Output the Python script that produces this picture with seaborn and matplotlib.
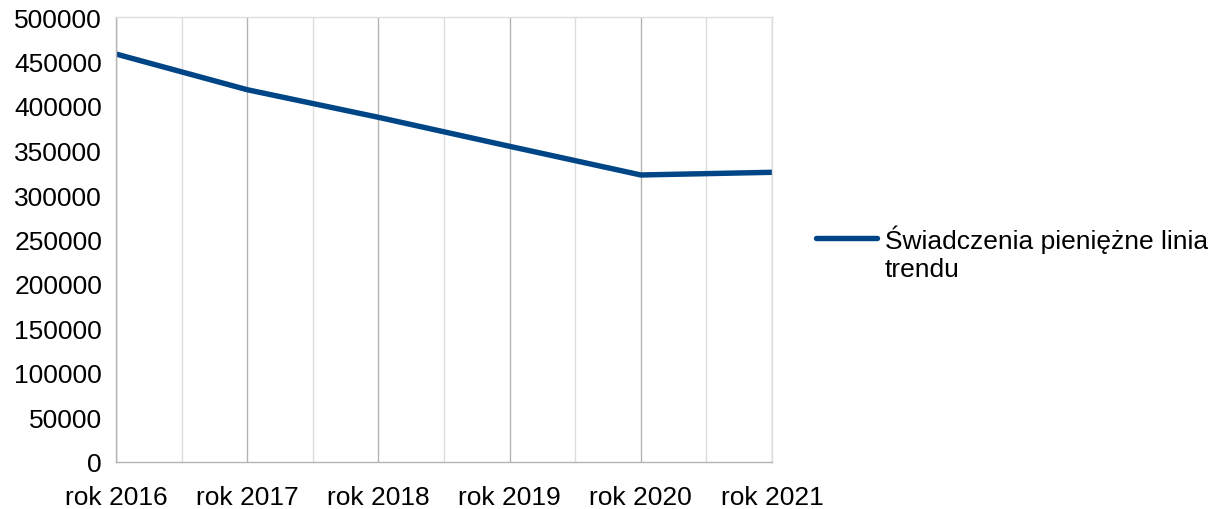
import pandas as pd
import matplotlib.pyplot as plt
import seaborn as sns

# values
years = ['rok 2016', 'rok 2017', 'rok 2018', 'rok 2019', 'rok 2020', 'rok 2021']
values = [458400, 418300, 387300, 354700, 322500, 325500]
series_label = 'Świadczenia pieniężne linia\ntrendu'
y_ticks = list(range(0, 500001, 50000))

LINE_COLOR = '#004586'
MAJOR_GRID = '#b3b3b3'
MINOR_GRID = '#dddddd'
FS = 19

sns.set_style('white')
plt.rcParams['font.family'] = ['Liberation Sans', 'DejaVu Sans']
plt.rcParams['font.size'] = FS

df = pd.DataFrame({'year': years, 'value': values, 'series': series_label})

fig = plt.figure(figsize=(12.27, 5.10), dpi=100)
ax = fig.add_axes([116 / 1227, 47 / 510, (772 - 116) / 1227, (463 - 18) / 510])

sns.lineplot(data=df, x='year', y='value', hue='series', palette=[LINE_COLOR],
             linewidth=3.9, ax=ax, sort=False)

ax.set_xlim(0, len(years) - 1)
ax.set_ylim(0, 500000)
ax.set_yticks(y_ticks)
ax.set_yticklabels([str(v) for v in y_ticks])
ax.set_xticks(range(len(years)))
ax.set_xticklabels(years)
ax.set_xlabel('')
ax.set_ylabel('')

# vertical grid only: major at categories, minor between them
ax.set_xticks([i + 0.5 for i in range(len(years) - 1)], minor=True)
ax.grid(False)
ax.grid(True, axis='x', which='major', color=MAJOR_GRID, linewidth=1)
ax.grid(True, axis='x', which='minor', color=MINOR_GRID, linewidth=1)
ax.tick_params(axis='x', which='minor', length=0)
ax.tick_params(axis='both', which='major', direction='out', length=8, width=1,
               color=MAJOR_GRID, labelsize=FS, pad=2, labelcolor='black')
ax.tick_params(axis='x', which='major', pad=8.5)

for side in ['left', 'bottom']:
    ax.spines[side].set_color(MAJOR_GRID)
    ax.spines[side].set_linewidth(1)
for side in ['top', 'right']:
    ax.spines[side].set_visible(True)
    ax.spines[side].set_color(MINOR_GRID)
    ax.spines[side].set_linewidth(1)

leg = ax.legend(loc='upper left', bbox_to_anchor=(816 / 1227, 1 - 226 / 510),
                bbox_transform=fig.transFigure, frameon=False, fontsize=FS,
                handlelength=2.3, handletextpad=0.3, borderpad=0, borderaxespad=0)
for t in leg.get_texts():
    t.set_color('black')
# align the legend line with the first text line, as in the reference
for ln in leg.get_lines():
    ln.set_linewidth(3.9)
    ln.set_ydata([y + 11 for y in ln.get_ydata()])

fig.savefig('out.png', dpi=100)
